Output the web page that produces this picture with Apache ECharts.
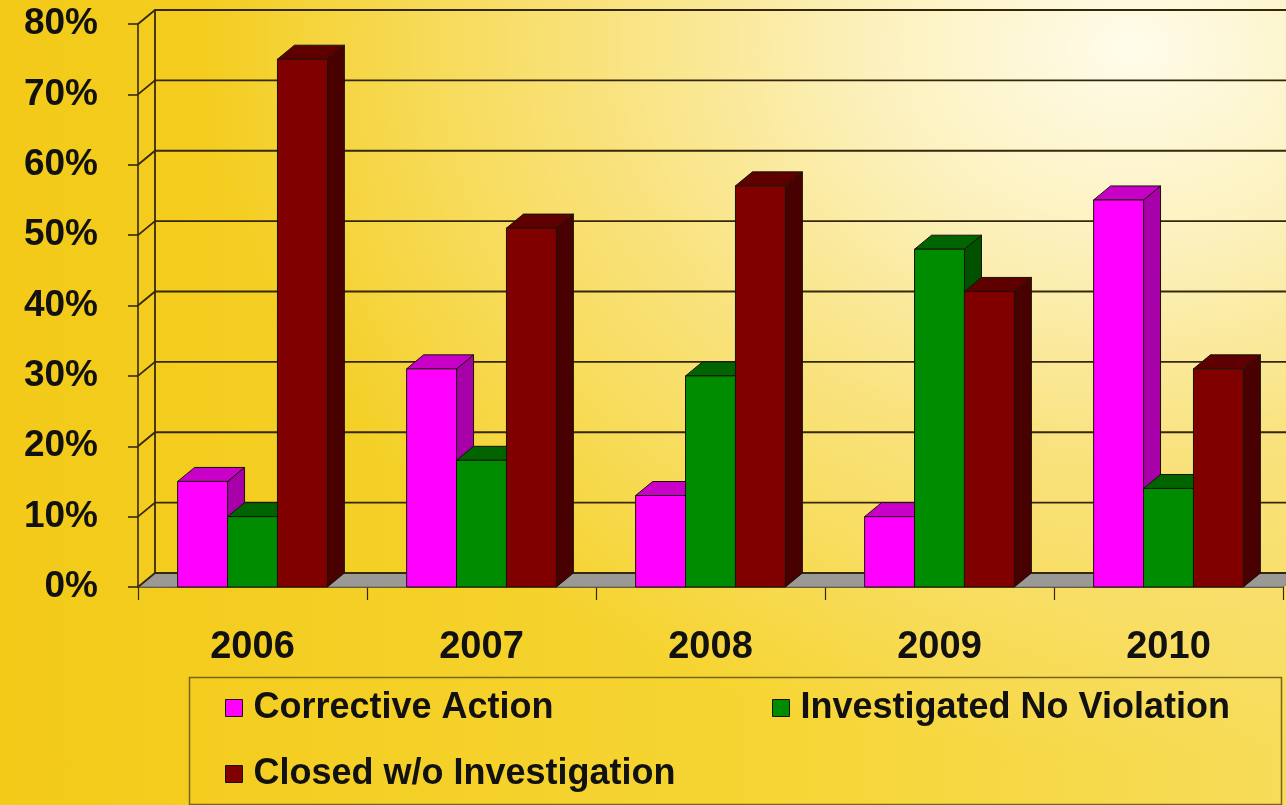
<!DOCTYPE html>
<html>
<head>
<meta charset="utf-8">
<script src="https://cdn.jsdelivr.net/npm/echarts@6/dist/echarts.min.js"></script>
<style>
  html, body { margin: 0; padding: 0; }
  #chart {
    width: 1286px; height: 805px;
    background:
      radial-gradient(ellipse 72% 88% at 88% 6%, #fffcea 0%, #fcf1bd 28%, #f9e27c 58%, rgba(246,212,50,0) 100%),
      linear-gradient(90deg, #f3ca18 0%, #f6d534 60%, #f7dc5a 100%);
  }
</style>
</head>
<body>
<div id="chart"></div>
<script>
// Complaint outcomes by year, share of cases (%)
const years = ['2006', '2007', '2008', '2009', '2010'];
const correctiveAction = [15, 31, 13, 10, 55];
const investigatedNoViolation = [10, 18, 30, 48, 14];
const closedWithoutInvestigation = [75, 51, 57, 42, 31];
const seriesNames = ['Corrective Action', 'Investigated No Violation', 'Closed w/o Investigation'];
const yTicks = [0, 10, 20, 30, 40, 50, 60, 70, 80];

// depth of the pseudo-3D box and bar share of a category slot
const DX = 17, DY = 14;
const BAR_FRAC = 0.218;
const LINE = '#35280a';

const palettes = [
  { front: '#ff00ff', top: '#c800c8', side: '#a800a8' },
  { front: '#008c00', top: '#006400', side: '#005200' },
  { front: '#800000', top: '#5e0000', side: '#480000' }
];

function pts(p) { return { points: p }; }

// back wall, left wall and floor of the box
function renderFrame(params, api) {
  const cs = params.coordSys;
  const xL = cs.x, xR = cs.x + cs.width + DX + 40;
  const y0 = api.coord([0, 0])[1];
  const children = [];
  children.push({
    type: 'polygon',
    shape: pts([[xL, y0], [xL + cs.width, y0], [xL + cs.width + DX, y0 - DY], [xL + DX, y0 - DY]]),
    style: { fill: '#9a9996', stroke: '#6e6a5e', lineWidth: 1 }
  });
  yTicks.forEach(function (t) {
    const y = api.coord([0, t])[1];
    children.push({
      type: 'polyline',
      shape: pts([[xL, y], [xL + DX, y - DY], [xR, y - DY]]),
      style: { stroke: LINE, lineWidth: 1.8, fill: null }
    });
  });
  const yTop = api.coord([0, yTicks[yTicks.length - 1]])[1];
  children.push({
    type: 'line',
    shape: { x1: xL + DX, y1: yTop - DY, x2: xL + DX, y2: y0 - DY },
    style: { stroke: LINE, lineWidth: 1.8 }
  });
  return { type: 'group', children: children };
}

function makeBarRenderer(k) {
  const c = palettes[k];
  return function (params, api) {
    const i = api.value(0), v = api.value(1);
    const top = api.coord([i, v]);
    const base = api.coord([i, 0]);
    const w = api.size([1, 0])[0] * BAR_FRAC;
    const x0 = top[0] + (k - 1.5) * w, x1 = x0 + w;
    const yT = top[1], yB = base[1];
    const edge = { stroke: '#1a1208', lineWidth: 1 };
    return {
      type: 'group',
      children: [
        { type: 'polygon', shape: pts([[x1, yT], [x1 + DX, yT - DY], [x1 + DX, yB - DY], [x1, yB]]),
          style: Object.assign({ fill: c.side }, edge) },
        { type: 'polygon', shape: pts([[x0, yT], [x1, yT], [x1 + DX, yT - DY], [x0 + DX, yT - DY]]),
          style: Object.assign({ fill: c.top }, edge) },
        { type: 'rect', shape: { x: x0, y: yT, width: w, height: yB - yT },
          style: Object.assign({ fill: c.front }, edge) }
      ]
    };
  };
}

const seriesValues = [correctiveAction, investigatedNoViolation, closedWithoutInvestigation];

const chart = echarts.init(document.getElementById('chart'), null, { renderer: 'canvas' });

const FONT = "'Liberation Sans', Arial, sans-serif";
const legendText = { fontFamily: FONT, fontWeight: 'bold', fontSize: 36, color: '#111', lineHeight: 40, padding: [0, 0, 0, 6] };
function legendFor(idx, left, top) {
  return {
    data: [{ name: seriesNames[idx], icon: 'rect',
             itemStyle: { color: palettes[idx].front, borderColor: '#1a1208', borderWidth: 1 } }],
    left: left, top: top, padding: 0, itemWidth: 17, itemHeight: 17,
    textStyle: legendText, selectedMode: false
  };
}

const option = {
  animation: false,
  backgroundColor: 'transparent',
  grid: { left: 138, right: 3, top: 24, bottom: 218 },
  xAxis: {
    type: 'category',
    data: years,
    boundaryGap: true,
    axisLine: { show: true, lineStyle: { color: LINE, width: 1.6 } },
    axisTick: { show: true, length: 13, lineStyle: { color: LINE, width: 1.2 } },
    axisLabel: { fontFamily: FONT, fontWeight: 'bold', fontSize: 38, color: '#111', margin: 42 },
    splitLine: { show: false }
  },
  yAxis: {
    type: 'value',
    min: 0, max: 80, interval: 10,
    axisLine: { show: true, lineStyle: { color: LINE, width: 1.6 } },
    axisTick: { show: true, length: 10, lineStyle: { color: LINE, width: 1.6 } },
    axisLabel: { formatter: '{value}%', fontFamily: FONT, fontWeight: 'bold', fontSize: 37, color: '#111', margin: 40,
                 padding: [5, 0, 0, 0] },
    splitLine: { show: false }
  },
  legend: [
    legendFor(0, 225, 688),
    legendFor(1, 772, 688),
    legendFor(2, 225, 754)
  ],
  graphic: [{
    type: 'rect', left: 187, top: 675, z: -1,
    shape: { width: 1092, height: 127 },
    style: { fill: null, stroke: '#7a6418', lineWidth: 1.5 }
  }],
  series: [
    { type: 'custom', name: 'frame', renderItem: renderFrame, data: [[0, 0]], silent: true, z: 1 }
  ].concat(seriesValues.map(function (vals, k) {
    return {
      type: 'custom',
      name: seriesNames[k],
      renderItem: makeBarRenderer(k),
      itemStyle: { color: palettes[k].front },
      encode: { x: 0, y: 1 },
      data: vals.map(function (v, i) { return [i, v]; }),
      z: 2
    };
  }))
};

chart.setOption(option);
</script>
</body>
</html>
